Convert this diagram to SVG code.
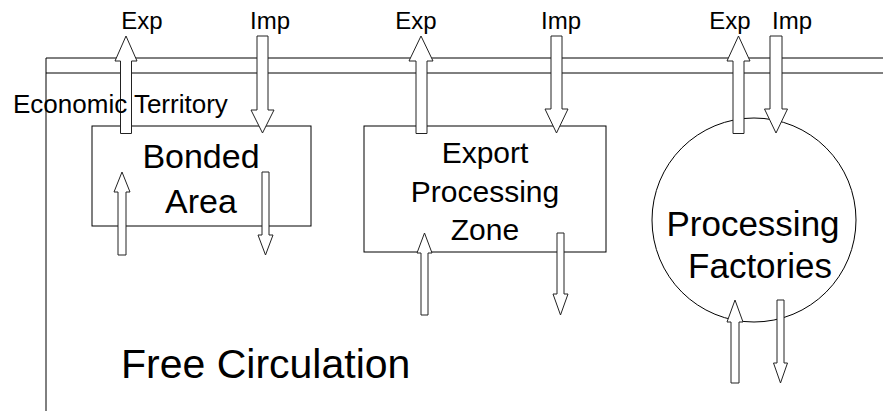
<svg xmlns="http://www.w3.org/2000/svg" width="883" height="413" viewBox="0 0 883 413">
  <style>
    .ln { fill: none; stroke: #000; stroke-width: 1; }
    .arr { fill: #fff; stroke: #222; stroke-width: 1; stroke-linejoin: miter; }
    text { font-family: "Liberation Sans", Arial, sans-serif; fill: #000; }
    .lbl { font-size: 24px; text-anchor: middle; }
  </style>
  <rect width="883" height="413" fill="#fff"/>

  <!-- economic territory frame: border band and left edge -->
  <g id="territory">
    <line class="ln" x1="46" y1="58" x2="883" y2="58"/>
    <line class="ln" x1="46" y1="73" x2="883" y2="73"/>
    <line class="ln" x1="46" y1="58" x2="46" y2="411"/>
  </g>

  <g id="bonded-area">
    <rect class="ln" x="92" y="126" width="219" height="100"/>
    <text x="201" y="168" font-size="34" text-anchor="middle">Bonded</text>
    <text x="201" y="213" font-size="34" text-anchor="middle">Area</text>
  </g>

  <g id="export-processing-zone">
    <rect class="ln" x="364" y="126" width="242" height="126"/>
    <text x="485" y="163" font-size="30" text-anchor="middle">Export</text>
    <text x="485" y="202" font-size="30" text-anchor="middle">Processing</text>
    <text x="485" y="240" font-size="30" text-anchor="middle">Zone</text>
  </g>

  <g id="processing-factories">
    <circle class="ln" cx="754" cy="220" r="102"/>
    <text x="753" y="236" font-size="35" text-anchor="middle">Processing</text>
    <text x="760" y="278" font-size="35" text-anchor="middle">Factories</text>
  </g>

  <g id="free-circulation">
    <text x="121" y="378" font-size="41">Free Circulation</text>
  </g>

  <!-- flow arrows -->
  <g id="connectors">
    <!-- bonded area -->
    <polygon class="arr" points="120.5,133.5 120.5,61 115,61 126,36 137,61 131.5,61 131.5,133.5"/>
    <polygon class="arr" points="257,36 268,36 268,110 274,110 262.5,133 251,110 257,110"/>
    <polygon class="arr" points="118,255 118,192 114,192 122,172 130,192 126,192 126,255"/>
    <polygon class="arr" points="262,172 269,172 269,235 273,235 265.5,255 258,235 262,235"/>
    <!-- export processing zone -->
    <polygon class="arr" points="416,133.5 416,61 409,61 421,36 433,61 427,61 427,133.5"/>
    <polygon class="arr" points="551,36 562,36 562,109 568,109 556.5,133 545,109 551,109"/>
    <polygon class="arr" points="421,315 421,253 417,253 424.5,233 432,253 428,253 428,315"/>
    <polygon class="arr" points="557,233 564,233 564,294 568,294 560.5,315 553,294 557,294"/>
    <!-- processing factories -->
    <polygon class="arr" points="733,133.5 733,61 727,61 738.5,36 750,61 744,61 744,133.5"/>
    <polygon class="arr" points="770,36 782,36 782,109 787.5,109 776,133 764.5,109 770,109"/>
    <polygon class="arr" points="731,383 731,322 727,322 735,300 743,322 739,322 739,383"/>
    <polygon class="arr" points="777,300 784,300 784,363 787.5,363 780.5,383 773.5,363 777,363"/>
  </g>

  <!-- territory caption sits above the export arrow -->
  <g id="territory-label">
    <text x="13" y="113" font-size="26">Economic Territory</text>
  </g>

  <g id="flow-labels">
    <text class="lbl" x="142" y="29">Exp</text>
    <text class="lbl" x="270" y="29">Imp</text>
    <text class="lbl" x="416" y="29">Exp</text>
    <text class="lbl" x="561" y="29">Imp</text>
    <text class="lbl" x="730" y="29">Exp</text>
    <text class="lbl" x="792" y="29">Imp</text>
  </g>
</svg>
